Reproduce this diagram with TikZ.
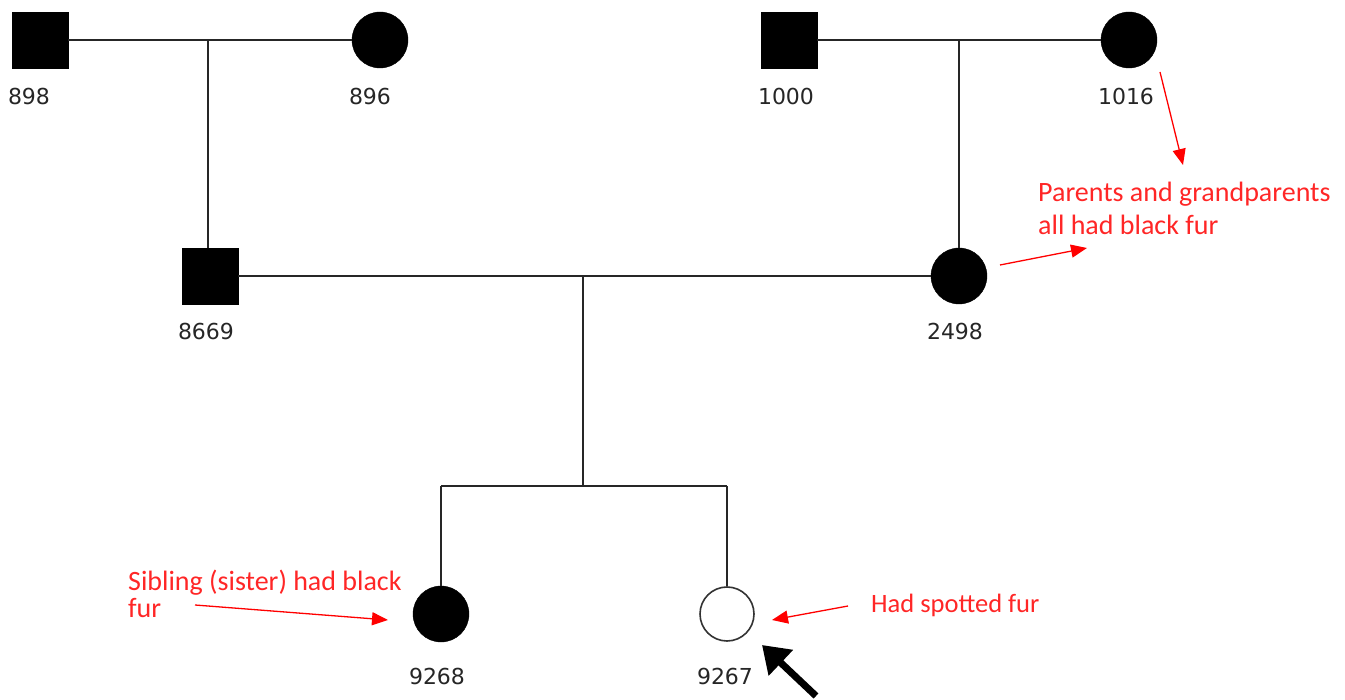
\documentclass[tikz,border=0pt]{standalone}
\usepackage{fontspec}
\setmainfont{DejaVu Sans}
\newfontfamily\handfont{Carlito}
\usetikzlibrary{arrows.meta}
\begin{document}
\begin{tikzpicture}[x=1pt,y=-1pt,
  male/.style={draw=black,fill=black,minimum size=56pt,inner sep=0pt,rectangle},
  female/.style={draw=black,fill=black,minimum size=56pt,inner sep=0pt,circle},
  open/.style={draw=black!80,fill=white,line width=1.6pt,minimum size=54pt,inner sep=0pt,circle},
  idlabel/.style={font=\fontsize{22}{24}\selectfont,text=black!85,inner sep=0pt},
  link/.style={line width=1.6pt,black!85},
  note/.style={font=\handfont\fontsize{28}{33}\selectfont,text=red!85!white,align=left,inner sep=0pt,anchor=north west},
  redarrow/.style={red,line width=1.3pt,-{Triangle[length=16pt,width=13pt]}},
  bigarrow/.style={black,line width=7pt,-{Triangle[length=26pt,width=34pt]}}]
\useasboundingbox (0,0) rectangle (1345,700);
% generation I
\node[male] (n898) at (40,40) {};
\node[female] (n896) at (380,40) {};
\node[male] (n1000) at (789,40) {};
\node[female] (n1016) at (1129,40) {};
\node[idlabel] (l898) at (29,96) {898};
\node[idlabel] (l896) at (370,96) {896};
\node[idlabel] (l1000) at (786,96) {1000};
\node[idlabel] (l1016) at (1126,96) {1016};
% generation II
\node[male] (n8669) at (210,276) {};
\node[female] (n2498) at (959,276) {};
\node[idlabel] (l8669) at (206,331) {8669};
\node[idlabel] (l2498) at (955,331) {2498};
% generation III
\node[female] (n9268) at (441,614) {};
\node[open] (n9267) at (727,614) {};
\node[idlabel] (l9268) at (437,676) {9268};
\node[idlabel] (l9267) at (725,676) {9267};
% couple and descent lines
\coordinate (m1) at (208,40);
\coordinate (m2) at (959,40);
\coordinate (m3) at (583,276);
\coordinate (s) at (583,486);
\coordinate (sl) at (441,486);
\coordinate (sr) at (727,486);
\draw[link] (n898.east) -- (n896.west);
\draw[link] (m1) -- (m1 |- n8669.north);
\draw[link] (n1000.east) -- (n1016.west);
\draw[link] (m2) -- (n2498.north);
\draw[link] (n8669.east) -- (n2498.west);
\draw[link] (m3) -- (s);
\draw[link] (sl) -- (sr);
\draw[link] (sl) -- (n9268.north);
\draw[link] (sr) -- (n9267.north);
% notes
\node[note] (t1) at (1038,182) {Parents and grandparents\\all had black fur};
\node[note,font=\handfont\fontsize{28}{27}\selectfont] (t2) at (128,570) {Sibling (sister) had black\\fur};
\node[note,font=\handfont\fontsize{26.5}{30}\selectfont] (t3) at (871,594) {Had spotted fur};
\coordinate (a1s) at (1160,72);
\coordinate (a1e) at (1183,165);
\coordinate (a2s) at (1000,265);
\coordinate (a2e) at (1087,248);
\coordinate (a3s) at (195,605);
\coordinate (a3e) at (388,620);
\coordinate (a4s) at (848,606);
\coordinate (a4e) at (772,620);
\draw[redarrow] (a1s) -- (a1e);
\draw[redarrow] (a2s) -- (a2e);
\draw[redarrow] (a3s) -- (a3e);
\draw[redarrow] (a4s) -- (a4e);
\coordinate (b1) at (816,696);
\coordinate (b2) at (762,645);
\draw[bigarrow] (b1) -- (b2);
\end{tikzpicture}
\end{document}
